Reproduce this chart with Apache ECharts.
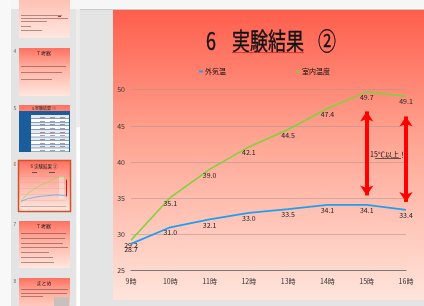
<!DOCTYPE html>
<html>
<head>
<meta charset="utf-8">
<script src="https://cdn.jsdelivr.net/npm/echarts@6/dist/echarts.min.js"></script>
<style>
  html, body { margin: 0; padding: 0; background: #e4e4e4; }
  #main { width: 424px; height: 306px; }
</style>
</head>
<body>
<div id="main"></div>
<script>
// データ
const hours = ['9時', '10時', '11時', '12時', '13時', '14時', '15時', '16時'];
const outdoorTemp = [28.7, 31.0, 32.1, 33.0, 33.5, 34.1, 34.1, 33.4];   // 外気温
const indoorTemp = [29.2, 35.1, 39.0, 42.1, 44.5, 47.4, 49.7, 49.1];    // 室内温度
const yMin = 25, yMax = 50, yStep = 5;
// 矢印 [時刻, 上端, 下端]
const arrowSpans = [['15時', 47.0, 35.4], ['16時', 46.3, 34.5]];
const noteText = '15℃以上！';

const FONT = '"Noto Sans CJK JP", "Noto Sans", sans-serif';
const slideGrad = () => new echarts.graphic.LinearGradient(0, 0, 0, 1, [
  { offset: 0, color: '#ff5e4c' },
  { offset: 0.45, color: '#ffa593' },
  { offset: 1, color: '#ffe4db' }
]);
const thumbGrad = () => new echarts.graphic.LinearGradient(0, 0, 0, 1, [
  { offset: 0, color: '#ff7060' },
  { offset: 0.4, color: '#ffb0a0' },
  { offset: 1, color: '#ffe6de' }
]);

// 背景・サムネイル
let g = [];
const rect = (x, y, w, h, fill, extra) => g.push(Object.assign({
  type: 'rect', shape: { x: x, y: y, width: w, height: h }, style: { fill: fill }, z: -10, silent: true
}, extra || {}));
const txt = (x, y, text, size, color, extra) => g.push(Object.assign({
  type: 'text', x: x, y: y, silent: true,
  style: { text: text, fontSize: size, fill: color, fontFamily: FONT, textAlign: 'center', textVerticalAlign: 'middle' }
}, extra || {}));
const lines = (x, ys, widths) => ys.forEach((y, i) => rect(x, y, widths[i], 1, 'rgba(90,40,40,0.45)', { z: -8 }));

rect(0, 0, 424, 306, '#e4e4e4', { z: -20 });
rect(0, 0, 424, 9, '#f6f6f6', { z: -19 });
rect(0, 0, 11, 306, '#f8f8f8', { z: -19 });
rect(80, 9, 344, 1, '#c9c9c9', { z: -19 });
rect(76, 9, 4, 297, '#ececec', { z: -19 });
rect(76.5, 127, 3.5, 179, '#ffffff', { z: -18 });

// スライド本体
rect(113, 10, 311, 290, slideGrad(), { z: -15 });

// サムネイル
const thumbs = [[19, -10, 48], [19, 48, 48], [19, 105, 47], [19, 161, 50], [19, 221, 47], [19, 278, 40]];
thumbs.forEach((t, i) => rect(t[0], t[1], 51, t[2], i === 0 ? new echarts.graphic.LinearGradient(0, 0, 0, 1, [
  { offset: 0, color: '#ffb8aa' }, { offset: 1, color: '#ffe6de' }]) : thumbGrad(), { z: -12 }));
['4', '5', '6', '7', '8'].forEach((n, i) => txt(15, thumbs[i + 1][1] + 3, n, 5, i === 2 ? '#c0502a' : '#666'));
// A
lines(21, [15, 18, 21, 26, 30], [41, 47, 26, 10, 21]);
rect(58, 16, 3, 1, '#e02020', { z: -7 });
// B
txt(44, 53, '7 考察', 5, '#222');
lines(21, [66, 72, 79], [45, 41, 31]);
// C 表
txt(44, 108, '5 実験結果 ①', 4, '#222');
rect(19, 111, 51, 41, '#1b5c9c', { z: -9 });
for (let i = 0; i < 10; i++) rect(31, 115 + i * 3.7, 38, 3.2, i % 2 ? '#ffffff' : '#e8e8ee', { z: -8 });
[40, 50, 60].forEach(x => lines(x, [117, 121, 124, 128, 132, 135, 139, 143, 146, 150], Array(10).fill(5)));
// D 選択中
rect(18.5, 160.5, 52, 51, 'none', { z: -7, style: { fill: 'none', stroke: '#d4512c', lineWidth: 1.5 } });
txt(44, 166, '6 実験結果 ②', 4.5, '#222');
rect(32, 172, 5, 1, '#555', { z: -7 });
rect(49, 172, 6, 1, '#555', { z: -7 });
rect(59, 176, 5, 23, 'rgba(255,255,255,0.35)', { z: -7 });
// E
txt(44, 226, '7 考察', 5, '#222');
lines(21, [233, 238, 243, 247, 252, 257, 262], [45, 44, 42, 47, 28, 32, 33]);
// F
txt(44, 283, 'まとめ', 5, '#222');
lines(21, [289, 293, 296], [47, 46, 22]);
rect(54, 297, 15, 9, '#c8c0bc', { z: -8 });

// タイトル
const titleStyle = (text) => ({ text: text, fontSize: 18, fill: '#111', fontFamily: FONT, textVerticalAlign: 'middle', stroke: '#111', lineWidth: 0.3 });
g.push({ type: 'text', x: 206, y: 41, scaleY: 1.35, style: titleStyle('6'), silent: true });
g.push({ type: 'text', x: 232, y: 41, scaleY: 1.35, style: titleStyle('実験結果'), silent: true });
g.push({ type: 'text', x: 318, y: 41, scaleY: 1.35, style: titleStyle('②'), silent: true });
g.push({ type: 'line', shape: { x1: 232, y1: 52.5, x2: 304, y2: 52.5 }, style: { stroke: '#e02424', lineWidth: 0.8 }, silent: true });

// 注記
txt(388, 154, noteText, 7, '#111');
g.push({ type: 'line', shape: { x1: 375, y1: 158.5, x2: 401, y2: 158.5 }, style: { stroke: '#222', lineWidth: 0.7 }, silent: true });

const valueLabel = { show: true, position: 'bottom', distance: 2, fontSize: 7, color: '#222', formatter: p => p.value.toFixed(1) };

const myChart = echarts.init(document.getElementById('main'));
const option = {
  animation: false,
  textStyle: { fontFamily: FONT },
  graphic: g,
  legend: {
    data: ['外気温', '室内温度'],
    left: 199, top: 68, padding: 0,
    icon: 'rect', itemWidth: 4, itemHeight: 2, itemGap: 70,
    textStyle: { fontSize: 7, color: '#111', padding: [0, 0, 0, -3] }
  },
  grid: [
    { left: 131, right: 18, top: 89.7, bottom: 35.3 },
    { left: 21, width: 45, top: 176, height: 30 }
  ],
  xAxis: [
    {
      gridIndex: 0, type: 'category', data: hours, boundaryGap: false,
      axisLine: { lineStyle: { color: '#7a7a7a', width: 1 } },
      axisTick: { show: false },
      axisLabel: { fontSize: 7, color: '#333', margin: 7 }
    },
    {
      gridIndex: 1, type: 'category', data: hours, boundaryGap: false,
      axisLine: { lineStyle: { color: '#999', width: 0.5 } },
      axisTick: { show: false }, axisLabel: { show: false }
    }
  ],
  yAxis: [
    {
      gridIndex: 0, type: 'value', min: yMin, max: yMax, interval: yStep,
      axisLine: { show: false }, axisTick: { show: false },
      axisLabel: { fontSize: 7, color: '#333', margin: 6 },
      splitLine: { lineStyle: { color: 'rgba(170,150,150,0.55)', width: 1 } }
    },
    {
      gridIndex: 1, type: 'value', min: yMin, max: yMax, interval: yStep,
      axisLine: { show: false }, axisTick: { show: false }, axisLabel: { show: false },
      splitLine: { lineStyle: { color: 'rgba(170,150,150,0.4)', width: 0.5 } }
    }
  ],
  series: [
    {
      name: '外気温', type: 'line', data: outdoorTemp,
      showSymbol: true, symbol: 'circle', symbolSize: 0.1,
      itemStyle: { color: '#1f9ff0' },
      lineStyle: { color: '#1f9ff0', width: 1.8 },
      label: valueLabel
    },
    {
      name: '室内温度', type: 'line', data: indoorTemp,
      showSymbol: true, symbol: 'circle', symbolSize: 0.1,
      itemStyle: { color: '#7fd23c' },
      lineStyle: { color: '#7fd23c', width: 1.6 },
      label: valueLabel,
      markLine: {
        silent: true, animation: false,
        symbol: ['arrow', 'arrow'], symbolSize: [10, 10],
        lineStyle: { color: '#ff0000', width: 4, type: 'solid' },
        label: { show: false },
        data: arrowSpans.map(a => [{ coord: [a[0], a[1]] }, { coord: [a[0], a[2]] }])
      }
    },
    {
      name: '外気温', type: 'line', xAxisIndex: 1, yAxisIndex: 1, data: outdoorTemp,
      symbol: 'none', lineStyle: { color: '#5aaef0', width: 0.8 }, itemStyle: { color: '#1f9ff0' }
    },
    {
      name: '室内温度', type: 'line', xAxisIndex: 1, yAxisIndex: 1, data: indoorTemp,
      symbol: 'none', lineStyle: { color: '#9ad860', width: 0.8 }, itemStyle: { color: '#7fd23c' },
      markLine: {
        silent: true, symbol: 'none',
        lineStyle: { color: '#ff0000', width: 1, type: 'solid' },
        label: { show: false },
        data: [[{ coord: ['16時', yMax - 3] }, { coord: ['16時', yMin + 8] }]]
      }
    }
  ]
};
myChart.setOption(option);
</script>
</body>
</html>
